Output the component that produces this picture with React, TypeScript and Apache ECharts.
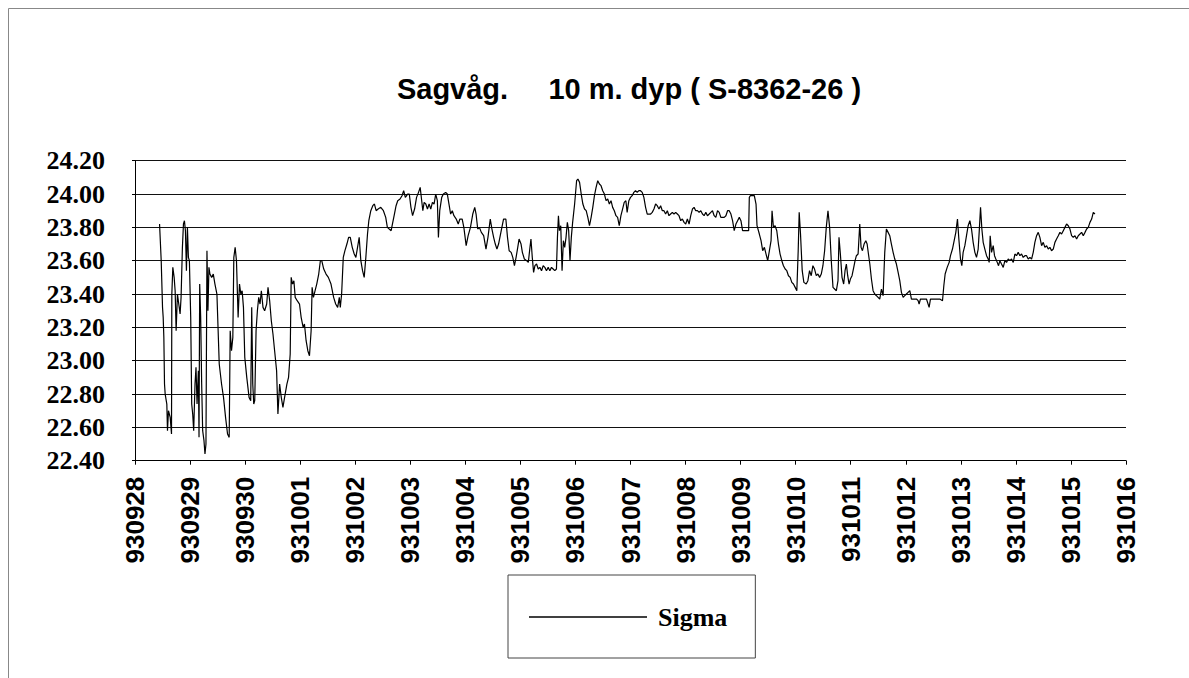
import React, { useEffect, useRef } from "react";
import * as echarts from "echarts";

const dateLabels = [
  "930928", "930929", "930930", "931001", "931002", "931003", "931004",
  "931005", "931006", "931007", "931008", "931009", "931010", "931011",
  "931012", "931013", "931014", "931015", "931016",
];

const yTicks = [22.4, 22.6, 22.8, 23.0, 23.2, 23.4, 23.6, 23.8, 24.0, 24.2];

// [day offset from 930928, sigma]
const sigma: [number, number][] = [
  [0.446,23.82],[0.476,23.60],[0.500,23.32],[0.512,23.26],[0.524,23.14],[0.536,22.86],[0.548,22.80],[0.578,22.74],[0.590,22.58],[0.608,22.70],[0.639,22.66],[0.663,22.56],[0.669,23.40],[0.687,23.56],[0.711,23.50],[0.729,23.42],[0.747,23.18],[0.771,23.40],[0.795,23.34],[0.819,23.28],[0.837,23.38],[0.861,23.68],[0.880,23.82],[0.898,23.84],[0.916,23.78],[0.934,23.54],[0.952,23.80],[0.970,23.62],[0.988,23.60],[1.012,23.26],[1.030,22.74],[1.048,22.68],[1.066,22.58],[1.090,22.86],[1.108,22.96],[1.127,22.74],[1.151,22.94],[1.163,22.54],[1.175,23.46],[1.193,23.26],[1.211,22.86],[1.229,22.58],[1.253,22.52],[1.271,22.44],[1.289,22.50],[1.307,23.66],[1.325,23.30],[1.343,23.56],[1.361,23.52],[1.392,23.50],[1.422,23.52],[1.452,23.46],[1.488,23.40],[1.530,22.98],[1.572,22.86],[1.608,22.78],[1.645,22.66],[1.681,22.56],[1.711,22.54],[1.729,23.18],[1.753,23.06],[1.777,23.14],[1.795,23.62],[1.819,23.68],[1.843,23.60],[1.873,23.26],[1.898,23.46],[1.922,23.40],[1.946,23.42],[1.970,23.32],[1.994,23.02],[2.030,22.90],[2.072,22.78],[2.102,22.76],[2.120,23.32],[2.139,22.86],[2.157,22.74],[2.175,22.76],[2.199,23.18],[2.223,23.30],[2.247,23.38],[2.271,23.34],[2.295,23.42],[2.325,23.32],[2.355,23.30],[2.392,23.34],[2.416,23.44],[2.446,23.36],[2.476,23.24],[2.506,23.16],[2.536,23.06],[2.572,22.94],[2.596,22.68],[2.627,22.86],[2.657,22.78],[2.687,22.72],[2.717,22.78],[2.759,22.86],[2.789,22.90],[2.819,23.04],[2.837,23.50],[2.861,23.46],[2.886,23.48],[2.910,23.38],[2.946,23.36],[2.988,23.34],[3.018,23.26],[3.054,23.20],[3.078,23.22],[3.108,23.12],[3.139,23.06],[3.169,23.03],[3.199,23.18],[3.217,23.44],[3.241,23.38],[3.271,23.42],[3.301,23.46],[3.337,23.52],[3.367,23.60],[3.392,23.60],[3.428,23.55],[3.470,23.52],[3.512,23.50],[3.560,23.46],[3.608,23.38],[3.645,23.34],[3.681,23.32],[3.711,23.38],[3.729,23.32],[3.753,23.40],[3.783,23.62],[3.813,23.66],[3.849,23.70],[3.880,23.74],[3.910,23.74],[3.946,23.68],[3.982,23.64],[4.012,23.62],[4.042,23.68],[4.072,23.74],[4.102,23.60],[4.133,23.54],[4.163,23.50],[4.193,23.62],[4.223,23.76],[4.247,23.84],[4.283,23.90],[4.319,23.93],[4.349,23.94],[4.380,23.90],[4.416,23.91],[4.464,23.92],[4.512,23.90],[4.554,23.86],[4.584,23.80],
  [4.652,23.78],[4.682,23.83],[4.712,23.88],[4.742,23.93],[4.772,23.96],[4.814,23.97],[4.850,23.99],[4.880,24.02],[4.910,23.98],[4.952,24.00],[4.982,24.00],[5.012,23.92],[5.042,23.87],[5.078,23.91],[5.114,23.98],[5.150,24.01],[5.180,24.04],[5.204,23.97],[5.228,23.90],[5.252,23.95],[5.282,23.94],[5.312,23.91],[5.342,23.94],[5.372,23.91],[5.402,23.95],[5.432,23.94],[5.462,24.00],[5.492,23.96],[5.511,23.74],[5.535,23.90],[5.571,23.98],[5.601,24.00],[5.643,24.01],[5.673,24.00],[5.703,23.94],[5.733,23.88],[5.763,23.90],[5.793,23.87],[5.835,23.85],[5.871,23.82],[5.901,23.85],[5.943,23.85],[5.973,23.80],[6.015,23.69],[6.051,23.75],[6.093,23.80],[6.135,23.88],[6.171,23.92],[6.195,23.88],[6.225,23.79],[6.255,23.80],[6.291,23.77],[6.333,23.75],[6.375,23.67],[6.411,23.74],[6.453,23.85],[6.483,23.79],[6.514,23.74],[6.544,23.70],[6.574,23.67],[6.604,23.70],[6.652,23.78],[6.694,23.85],[6.736,23.85],[6.766,23.74],[6.796,23.66],[6.832,23.65],[6.862,23.62],[6.892,23.57],[6.922,23.62],[6.952,23.68],[6.976,23.73],[7.012,23.70],[7.036,23.65],[7.072,23.61],[7.114,23.60],[7.144,23.59],[7.174,23.68],[7.192,23.73],[7.216,23.62],[7.240,23.53],[7.264,23.57],[7.294,23.58],[7.324,23.55],[7.354,23.56],[7.384,23.54],[7.414,23.57],[7.444,23.56],[7.474,23.54],[7.505,23.56],[7.535,23.54],[7.565,23.56],[7.595,23.55],[7.625,23.54],[7.655,23.55],[7.673,23.74],[7.691,23.87],[7.709,23.78],[7.733,23.81],[7.757,23.54],[7.781,23.72],[7.805,23.68],[7.829,23.74],[7.853,23.83],[7.877,23.78],[7.901,23.60],[7.925,23.74],[7.949,23.83],[7.985,23.94],[8.021,24.08],[8.045,24.09],[8.075,24.07],[8.105,24.00],[8.135,23.94],[8.165,23.91],[8.195,23.90],[8.225,23.86],[8.255,23.81],[8.285,23.86],[8.315,23.92],[8.345,23.99],[8.375,24.04],[8.405,24.08],[8.435,24.06],[8.465,24.05],[8.495,24.02],[8.526,24.00],[8.556,23.96],[8.586,23.97],[8.616,23.94],[8.646,23.96],[8.676,23.92],[8.706,23.90],[8.736,23.87],[8.766,23.86],[8.796,23.81],[8.826,23.87],[8.856,23.91],[8.886,23.95],[8.916,23.96],
  [8.939,23.89],[8.970,23.96],[9.000,23.98],[9.030,23.99],[9.061,24.01],[9.091,24.02],[9.122,24.01],[9.152,24.02],[9.182,24.02],[9.213,24.01],[9.243,23.98],[9.274,23.92],[9.304,23.88],[9.334,23.88],[9.365,23.88],[9.395,23.89],[9.426,23.91],[9.456,23.94],[9.486,23.93],[9.517,23.91],[9.547,23.93],[9.578,23.90],[9.608,23.90],[9.638,23.88],[9.669,23.90],[9.699,23.87],[9.729,23.88],[9.760,23.89],[9.790,23.88],[9.821,23.89],[9.851,23.88],[9.881,23.87],[9.912,23.84],[9.942,23.85],[9.973,23.83],[10.003,23.82],[10.033,23.85],[10.064,23.82],[10.094,23.87],[10.125,23.91],[10.155,23.92],[10.185,23.90],[10.216,23.90],[10.246,23.89],[10.277,23.90],[10.307,23.88],[10.337,23.87],[10.368,23.89],[10.398,23.87],[10.429,23.88],[10.459,23.89],[10.489,23.90],[10.520,23.87],[10.550,23.86],[10.581,23.90],[10.611,23.89],[10.641,23.86],[10.672,23.86],[10.702,23.86],[10.733,23.87],[10.763,23.90],[10.793,23.90],[10.824,23.88],[10.854,23.84],[10.884,23.78],[10.915,23.82],[10.945,23.84],[10.976,23.86],[11.006,23.84],[11.036,23.78],[11.097,23.78],[11.146,23.78],[11.158,23.98],[11.176,23.99],[11.219,23.99],[11.249,23.99],[11.280,23.94],[11.298,23.81],[11.340,23.76],[11.371,23.72],[11.401,23.66],[11.432,23.68],[11.462,23.64],[11.492,23.60],[11.523,23.66],[11.553,23.72],[11.571,23.90],[11.596,23.80],[11.626,23.81],[11.657,23.78],[11.687,23.70],[11.717,23.64],[11.748,23.60],[11.778,23.57],[11.809,23.55],[11.839,23.54],[11.869,23.51],[11.900,23.50],[11.930,23.47],[11.960,23.46],[11.991,23.44],[12.021,23.42],[12.046,23.66],[12.064,23.89],[12.088,23.76],[12.119,23.54],[12.149,23.47],[12.191,23.46],[12.222,23.48],[12.252,23.54],[12.283,23.51],[12.313,23.57],[12.343,23.55],[12.374,23.51],[12.404,23.52],[12.435,23.50],[12.465,23.52],[12.495,23.57],[12.526,23.66],[12.556,23.80],[12.587,23.90],[12.617,23.80],[12.647,23.60],[12.678,23.44],[12.708,23.43],[12.739,23.42],[12.769,23.48],[12.787,23.74],[12.812,23.64],[12.842,23.50],[12.872,23.46],[12.897,23.54],[12.921,23.58],[12.945,23.51],[12.970,23.46],[12.994,23.49],[13.024,23.51],[13.055,23.56],[13.079,23.60],[13.103,23.63],[13.134,23.64],[13.164,23.82],[13.188,23.68],[13.213,23.66],[13.243,23.70],[13.274,23.72],[13.298,23.70],[13.322,23.64],[13.347,23.58],
  [13.376,23.49],[13.406,23.42],[13.436,23.40],[13.467,23.39],[13.497,23.38],[13.527,23.37],[13.558,23.43],[13.588,23.39],[13.618,23.65],[13.648,23.79],[13.679,23.77],[13.709,23.75],[13.739,23.70],[13.770,23.65],[13.800,23.61],[13.830,23.58],[13.861,23.53],[13.891,23.48],[13.921,23.41],[13.952,23.38],[13.982,23.39],[14.012,23.40],[14.042,23.41],[14.073,23.42],[14.103,23.37],[14.133,23.37],[14.194,23.37],[14.224,23.36],[14.242,23.34],[14.267,23.37],[14.315,23.37],[14.376,23.37],[14.424,23.32],[14.448,23.37],[14.497,23.37],[14.558,23.37],[14.618,23.37],[14.667,23.36],[14.691,23.45],[14.715,23.52],[14.752,23.56],[14.788,23.59],[14.812,23.63],[14.848,23.67],[14.879,23.72],[14.909,23.77],[14.939,23.85],[14.964,23.73],[14.994,23.61],[15.018,23.57],[15.042,23.65],[15.073,23.69],[15.103,23.75],[15.133,23.81],[15.164,23.84],[15.194,23.79],[15.224,23.71],[15.255,23.65],[15.285,23.62],[15.315,23.67],[15.333,23.77],[15.358,23.92],[15.382,23.79],[15.406,23.71],[15.436,23.67],[15.467,23.63],[15.497,23.61],[15.515,23.59],[15.533,23.75],[15.558,23.65],[15.588,23.69],[15.612,23.63],[15.636,23.61],[15.661,23.59],[15.685,23.57],[15.709,23.60],[15.739,23.58],[15.770,23.56],[15.800,23.60],[15.830,23.59],[15.861,23.61],[15.891,23.60],[15.921,23.61],[15.952,23.59],[15.982,23.64],[16.012,23.63],[16.042,23.65],[16.073,23.63],[16.103,23.64],[16.133,23.62],[16.164,23.63],[16.194,23.63],[16.224,23.61],[16.255,23.62],[16.285,23.61],[16.315,23.65],[16.345,23.71],[16.376,23.75],[16.406,23.77],[16.436,23.74],[16.467,23.69],[16.497,23.71],[16.527,23.68],[16.558,23.69],[16.588,23.67],[16.618,23.68],[16.648,23.66],[16.679,23.67],[16.709,23.71],[16.739,23.73],[16.770,23.75],[16.800,23.77],[16.830,23.76],[16.861,23.78],[16.891,23.80],[16.921,23.82],[16.952,23.81],[16.982,23.79],[17.012,23.75],[17.042,23.74],[17.073,23.75],[17.103,23.73],[17.133,23.75],[17.164,23.76],[17.194,23.77],[17.224,23.75],[17.255,23.77],[17.285,23.79],[17.315,23.80],[17.345,23.83],[17.376,23.85],[17.406,23.89],[17.436,23.88],
];

const titleText = "Sagvåg.\u00a0\u00a0\u00a0\u00a0\u00a010 m. dyp ( S-8362-26 )";
const seriesName = "Sigma";

export default function App() {
  const ref = useRef<HTMLDivElement>(null);
  useEffect(() => {
    document.body.style.margin = "0";
    document.body.style.overflow = "hidden";
    const chart = echarts.init(ref.current!, null, { renderer: "svg" });
    chart.setOption({
      animation: false,
      backgroundColor: "#ffffff",
      title: {
        text: titleText,
        left: 624,
        top: 69,
        textAlign: "center",
        textStyle: {
          fontFamily: "Liberation Sans, Arial, sans-serif",
          fontWeight: "bold",
          fontSize: 29,
          color: "#000",
        },
      },
      graphic: [
        {
          type: "rect",
          left: 6,
          top: 6,
          silent: true,
          shape: { width: 1250, height: 800 },
          style: { fill: "none", stroke: "#888", lineWidth: 1 },
        },
      ],
      legend: {
        left: 508,
        top: 575,
        padding: [29, 28, 28, 21],
        borderColor: "#444",
        borderWidth: 1,
        icon: "rect",
        itemWidth: 118,
        itemHeight: 1.5,
        itemStyle: { color: "#000" },
        textStyle: {
          fontFamily: "Liberation Serif, Times New Roman, serif",
          fontWeight: "bold",
          fontSize: 26,
          color: "#000",
          padding: [0, 0, 0, 6],
        },
        data: [seriesName],
      },
      grid: { left: 135, right: 63, top: 160.7, bottom: 217.3, containLabel: false },
      xAxis: {
        type: "value",
        min: 0,
        max: dateLabels.length - 1,
        interval: 1,
        axisLine: { lineStyle: { color: "#000", width: 1 } },
        axisTick: { show: true, length: 4, lineStyle: { color: "#000" } },
        splitLine: { show: false },
        axisLabel: {
          rotate: 90,
          margin: 16,
          fontFamily: "Liberation Sans, Arial, sans-serif",
          fontWeight: "bold",
          fontSize: 26,
          color: "#000",
          formatter: (v: number) => dateLabels[Math.round(v)] ?? "",
        },
      },
      yAxis: {
        type: "value",
        min: yTicks[0],
        max: yTicks[yTicks.length - 1],
        interval: 0.2,
        axisLine: { show: true, lineStyle: { color: "#000", width: 1 } },
        axisTick: { show: true, length: 3, lineStyle: { color: "#000" } },
        splitLine: { show: true, lineStyle: { color: "#111", width: 1 } },
        axisLabel: {
          margin: 30,
          fontFamily: "Liberation Serif, Times New Roman, serif",
          fontWeight: "bold",
          fontSize: 26,
          color: "#000",
          formatter: (v: number) => v.toFixed(2),
        },
      },
      series: [
        {
          name: seriesName,
          type: "line",
          data: sigma,
          showSymbol: false,
          symbol: "none",
          color: "#000",
          lineStyle: { color: "#000", width: 1.2 },
        },
      ],
    });
    return () => chart.dispose();
  }, []);
  return <div ref={ref} style={{ width: 1189, height: 678 }} />;
}
